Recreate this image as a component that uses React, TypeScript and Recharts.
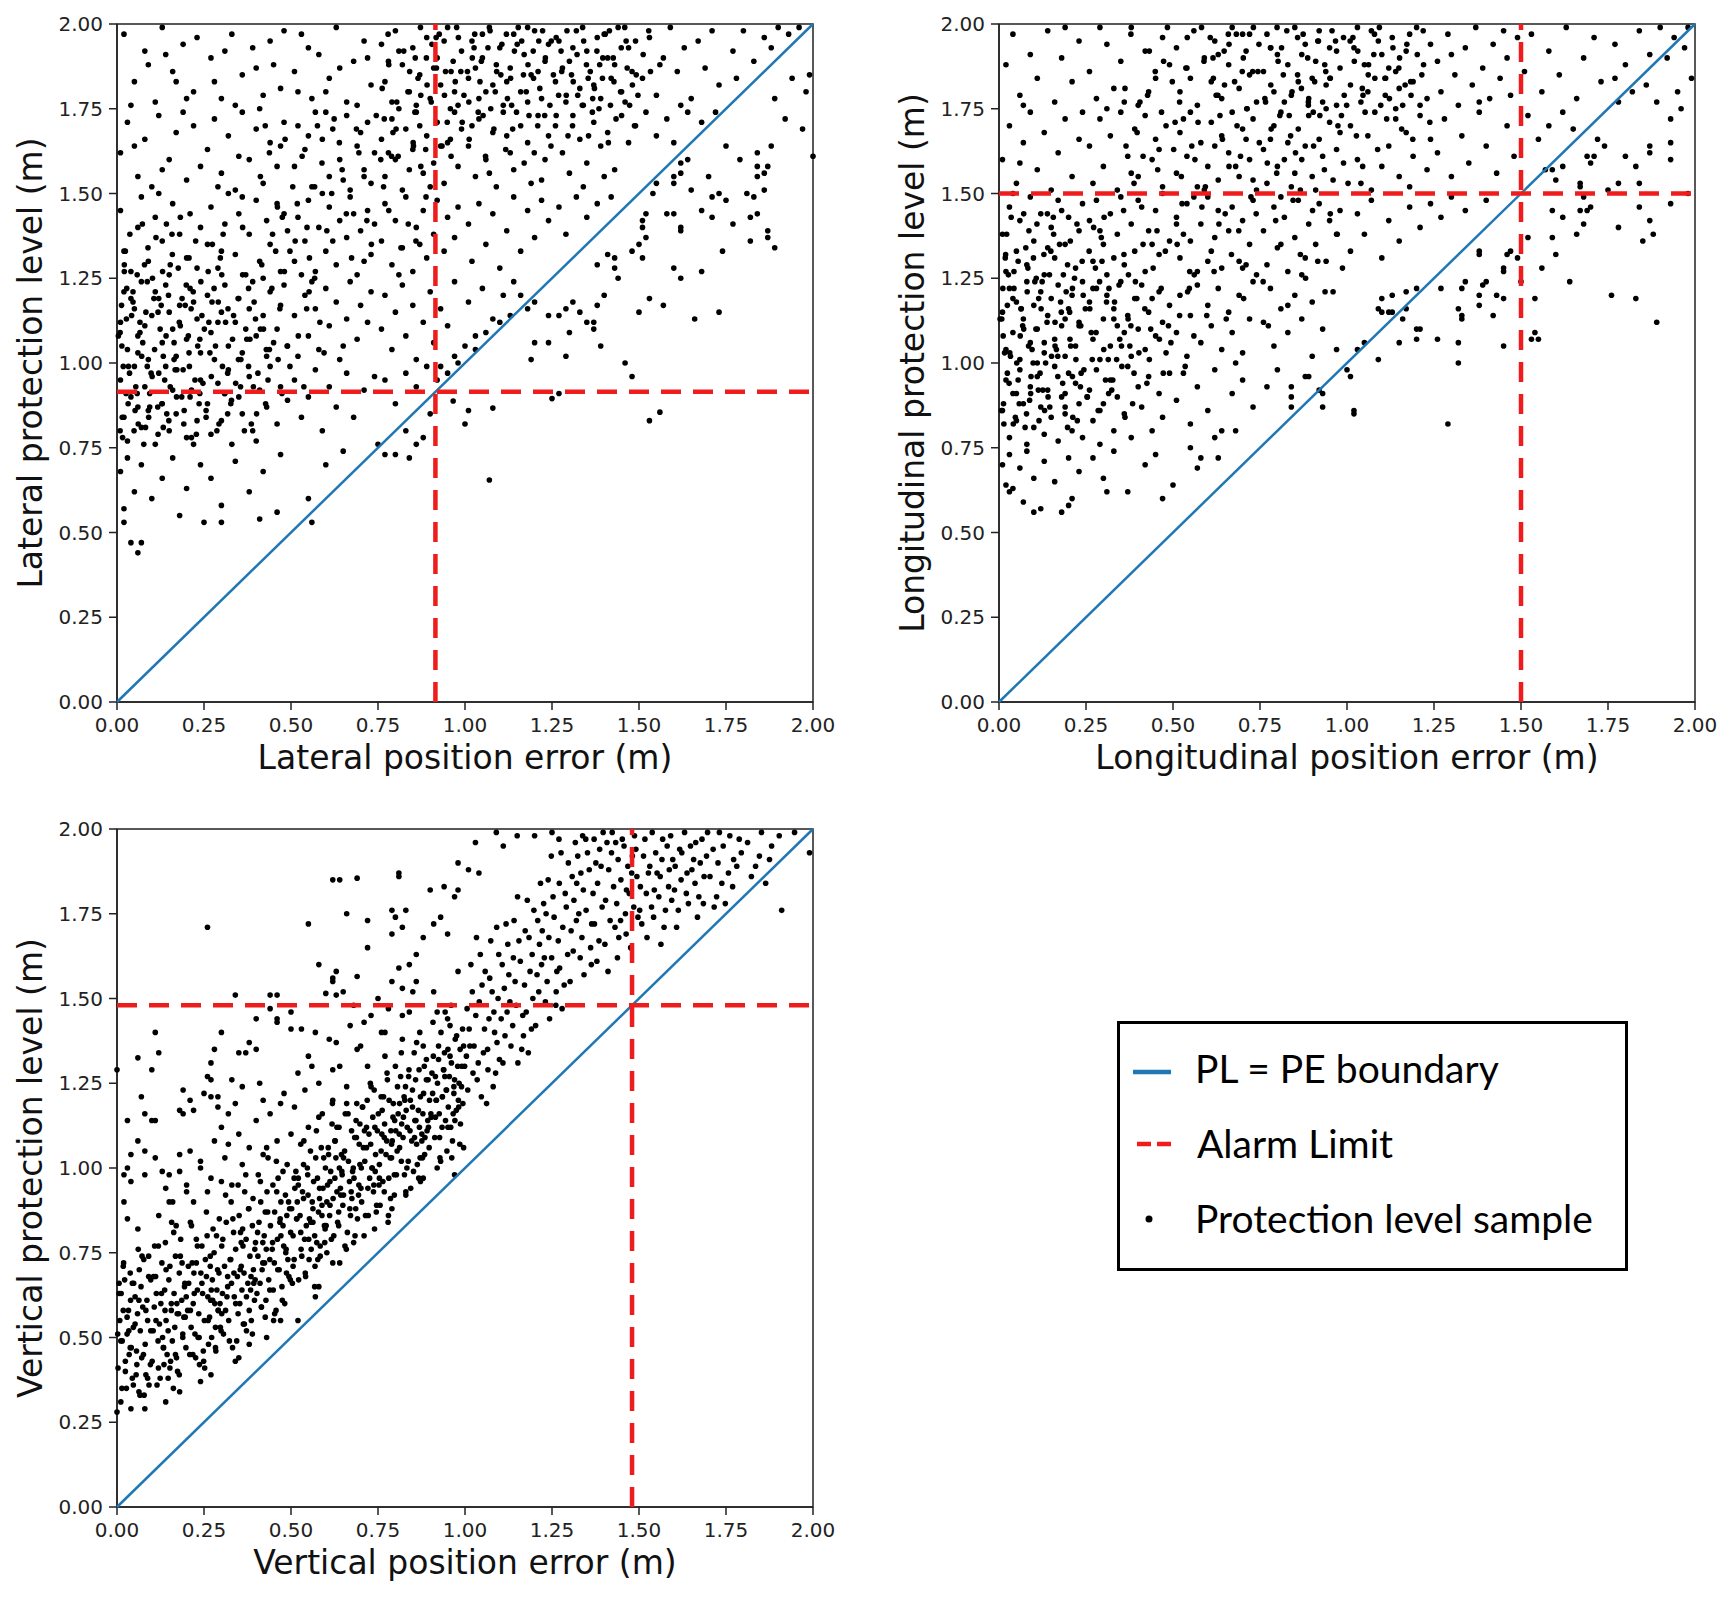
import React from 'react';
import { ScatterChart, Scatter, XAxis, YAxis, ReferenceLine, ReferenceArea } from 'recharts';

// ---------- axis ticks ----------
const AXIS_TICKS = [0, 0.25, 0.5, 0.75, 1, 1.25, 1.5, 1.75, 2];
const TICK_LABELS = ['0.00', '0.25', '0.50', '0.75', '1.00', '1.25', '1.50', '1.75', '2.00'];

// ---------- alarm limits (m) ----------
const LATERAL_ALARM = 0.915;
const LONGITUDINAL_ALARM = 1.5;
const VERTICAL_ALARM = 1.48;

// ---------- axis titles ----------
const LATERAL_TITLES = ['Lateral position error (m)', 'Lateral protection level (m)'];
const LONGITUDINAL_TITLES = ['Longitudinal position error (m)', 'Longitudinal protection level (m)'];
const VERTICAL_TITLES = ['Vertical position error (m)', 'Vertical protection level (m)'];

// ---------- legend ----------
const LEGEND_LABELS = ['PL = PE boundary', 'Alarm Limit', 'Protection level sample'];

// ---------- samples [position error, protection level] ----------
const lateralSamples: [number, number][] = [
  [.02,1.97],[.05,1.83],[.08,1.92],[.11,1.77],[.13,1.99],[.16,1.86],[.19,1.94],[.22,1.8],[.04,1.76],[.09,1.88],[.14,1.91],[.2,1.78],[.23,1.96],[.17,1.83],
  [.27,1.9],[.3,1.78],[.33,1.97],[.36,1.85],[.39,1.93],[.42,1.79],[.45,1.88],[.48,1.98],[.28,1.83],[.34,1.76],[.4,1.87],[.44,1.95],[.47,1.81],[.31,1.92],
  [.51,1.86],[.53,1.97],[.56,1.78],[.58,1.91],[.61,1.84],[.63,1.99],[.66,1.77],[.68,1.89],[.71,1.95],[.73,1.82],[.55,1.93],[.6,1.8],[.64,1.87],[.69,1.76],[.72,1.9],[.52,1.8],
  [.76,1.94],[.77,1.83],[.79,1.77],[.8,1.98],[.82,1.88],[.84,1.8],[.85,1.93],[.87,1.85],[.89,1.96],[.9,1.78],[.92,1.9],[.93,1.82],[.95,1.99],[.96,1.86],[.98,1.76],[.99,1.92],[.81,1.92],[.86,1.76],[.91,1.87],[.94,1.95],[.97,1.8],[.78,1.89],
  [1.01,1.84],[1.02,1.95],[1.04,1.78],[1.05,1.9],[1.07,1.99],[1.08,1.82],[1.1,1.93],[1.11,1.76],[1.13,1.87],[1.14,1.97],[1.16,1.8],[1.17,1.91],[1.19,1.85],[1.2,1.98],[1.22,1.78],[1.23,1.89],[1.24,1.94],[1.03,1.87],[1.06,1.8],[1.09,1.88],[1.12,1.83],[1.15,1.94],[1.18,1.77],[1.21,1.86],[1.05,1.97],[1.18,1.99],
  [1.26,1.83],[1.27,1.95],[1.29,1.77],[1.3,1.89],[1.32,1.98],[1.33,1.81],[1.35,1.92],[1.36,1.86],[1.38,1.96],[1.39,1.78],[1.41,1.9],[1.42,1.84],[1.44,1.99],[1.45,1.8],[1.47,1.93],[1.48,1.86],[1.28,1.87],[1.31,1.93],[1.34,1.76],[1.37,1.82],[1.4,1.97],[1.43,1.88],[1.46,1.77],[1.49,1.95],
  [1.51,1.84],[1.53,1.96],[1.55,1.79],[1.57,1.9],[1.59,1.99],[1.61,1.86],[1.63,1.93],[1.65,1.78],[1.67,1.95],[1.69,1.87],[1.71,1.98],[1.73,1.82],[1.56,1.88],[1.62,1.76],
  [1.77,1.92],[1.8,1.98],[1.83,1.89],[1.86,1.96],[1.9,1.99],[1.93,1.97],[1.78,1.84],[1.96,1.99],[1.88,1.93],[1.94,1.84],[1.98,1.8],[1.92,1.72],[1.97,1.69],[1.99,1.85],[1.89,1.78],
  [.01,1.62],[.03,1.71],[.06,1.55],[.08,1.66],[.1,1.52],[.12,1.73],[.15,1.6],[.17,1.68],[.2,1.54],[.22,1.7],[.24,1.58],[.05,1.64],[.13,1.57],[.19,1.74],
  [.26,1.63],[.28,1.72],[.3,1.56],[.32,1.67],[.34,1.51],[.36,1.74],[.38,1.6],[.4,1.69],[.42,1.53],[.44,1.65],[.46,1.58],[.48,1.71],[.29,1.52],[.35,1.61],[.41,1.75],[.47,1.64],
  [.51,1.58],[.52,1.7],[.54,1.63],[.56,1.52],[.57,1.74],[.59,1.66],[.61,1.55],[.62,1.69],[.64,1.6],[.66,1.73],[.67,1.51],[.69,1.64],[.71,1.57],[.72,1.71],[.74,1.62],[.55,1.67],[.6,1.74],[.65,1.54],[.7,1.68],[.73,1.53],
  [.76,1.66],[.77,1.55],[.79,1.72],[.8,1.6],[.82,1.51],[.83,1.69],[.85,1.63],[.86,1.74],[.88,1.56],[.89,1.67],[.91,1.59],[.92,1.71],[.94,1.53],[.95,1.65],[.97,1.74],[.98,1.58],[.78,1.62],[.84,1.57],[.87,1.7],[.9,1.52],[.93,1.64],[.96,1.61],[.99,1.69],[.81,1.75],
  [1.01,1.64],[1.03,1.55],[1.04,1.72],[1.06,1.6],[1.08,1.68],[1.09,1.52],[1.11,1.74],[1.13,1.62],[1.14,1.57],[1.16,1.7],[1.18,1.65],[1.19,1.53],[1.21,1.73],[1.23,1.6],[1.24,1.67],[1.02,1.7],[1.07,1.56],[1.12,1.67],[1.17,1.59],[1.22,1.54],
  [1.26,1.7],[1.28,1.62],[1.3,1.56],[1.31,1.73],[1.33,1.66],[1.35,1.59],[1.37,1.71],[1.39,1.64],[1.41,1.68],[1.43,1.57],[1.45,1.73],[1.47,1.65],[1.49,1.7],[1.34,1.52],[1.4,1.55],
  [1.52,1.74],[1.55,1.67],[1.58,1.72],[1.6,1.65],[1.64,1.74],[1.68,1.71],[1.72,1.74],
  [.01,1.45],[.02,1.33],[.04,1.27],[.06,1.4],[.07,1.49],[.09,1.3],[.11,1.43],[.13,1.36],[.15,1.26],[.16,1.47],[.18,1.38],[.2,1.31],[.21,1.44],[.23,1.28],[.24,1.4],[.12,1.5],
  [.26,1.35],[.27,1.46],[.29,1.28],[.31,1.41],[.32,1.5],[.34,1.32],[.35,1.44],[.37,1.26],[.38,1.38],[.4,1.48],[.41,1.3],[.43,1.42],[.44,1.35],[.46,1.47],[.47,1.27],[.49,1.39],[.3,1.33],[.36,1.49],[.42,1.25],[.48,1.44],
  [.51,1.3],[.52,1.43],[.54,1.36],[.55,1.48],[.57,1.27],[.58,1.4],[.6,1.33],[.61,1.46],[.63,1.29],[.64,1.42],[.66,1.37],[.67,1.49],[.69,1.26],[.7,1.39],[.72,1.45],[.73,1.32],[.74,1.41],[.53,1.26],[.59,1.5],[.62,1.36],[.68,1.44],[.71,1.3],
  [.76,1.36],[.77,1.47],[.79,1.29],[.8,1.42],[.82,1.34],[.83,1.49],[.85,1.27],[.86,1.4],[.88,1.45],[.89,1.31],[.91,1.38],[.92,1.48],[.94,1.33],[.95,1.43],[.97,1.37],[.98,1.46],[.81,1.26],[.87,1.35],
  [1.01,1.41],[1.02,1.3],[1.04,1.47],[1.06,1.35],[1.08,1.44],[1.1,1.28],[1.12,1.39],[1.14,1.49],[1.16,1.33],[1.18,1.45],[1.2,1.37],[1.22,1.48],[1.24,1.42],
  [1.27,1.46],[1.29,1.38],[1.32,1.49],[1.35,1.43],[1.38,1.47],[1.42,1.49],
  [.01,1.12],[.02,1.21],[.03,1.04],[.05,1.16],[.06,1.08],[.07,1.24],[.09,1.01],[.1,1.14],[.12,1.19],[.13,1.06],[.14,1.23],[.16,1.1],[.17,1.02],[.18,1.17],[.2,1.07],[.21,1.22],[.23,1.13],[.24,1.03],[.04,1.19],[.08,1.11],[.15,1.15],[.22,1.18],
  [.26,1.2],[.27,1.09],[.28,1.01],[.3,1.15],[.31,1.23],[.32,1.05],[.34,1.12],[.35,1.19],[.36,1.03],[.38,1.16],[.39,1.24],[.4,1.08],[.42,1.14],[.43,1.02],[.44,1.21],[.46,1.1],[.47,1.17],[.49,1.05],[.29,1.12],[.37,1.1],[.45,1.06],[.48,1.23],
  [.51,1.14],[.52,1.02],[.54,1.2],[.55,1.08],[.57,1.16],[.58,1.04],[.6,1.22],[.61,1.11],[.63,1.18],[.64,1.01],[.66,1.13],[.67,1.24],[.69,1.07],[.7,1.17],[.72,1.12],[.73,1.21],[.56,1.24],[.65,1.05],
  [.76,1.1],[.77,1.2],[.79,1.04],[.8,1.15],[.82,1.23],[.83,1.08],[.85,1.17],[.86,1.01],[.88,1.12],[.9,1.21],[.91,1.06],[.93,1.16],[.95,1.11],[.97,1.24],
  [1.01,1.18],[1.03,1.08],[1.05,1.22],[1.08,1.13],[1.11,1.2],[1.14,1.24],
  [.01,.95],[.02,.84],[.03,.77],[.04,.9],[.05,.99],[.07,.81],[.08,.93],[.09,.86],[.11,.76],[.12,.97],[.13,.88],[.15,.8],[.16,.92],[.17,.85],[.19,.98],[.2,.78],[.21,.9],[.23,.83],[.24,.95],[.06,.87],[.14,.99],[.22,.76],
  [.26,.88],[.27,.79],[.29,.94],[.3,.83],[.32,.98],[.33,.76],[.35,.9],[.36,.85],[.38,.96],[.39,.8],[.41,.92],[.43,.87],[.44,.99],[.46,.82],[.47,.93],[.49,.89],[.31,.91],[.4,.77],
  [.51,.95],[.53,.84],[.55,.9],[.57,.98],[.59,.8],[.61,.93],[.63,.87],[.66,.97],[.68,.84],[.71,.92],[.74,.96],
  [.77,.95],[.8,.88],[.83,.97],[.86,.93],[.89,.99],
  [.77,.73],[.8,.73],[.84,.72],[.86,.76],[.88,.78],[.75,.76],[.83,.8],[.9,.85],
  [.01,.68],[.02,.57],[.03,.72],[.05,.62],[.07,.7],[.1,.6],[.13,.66],[.16,.72],[.2,.63],[.24,.7],
  [.27,.66],[.3,.58],[.34,.71],[.38,.62],[.42,.68],[.47,.73],
  [.55,.6],[.6,.7],[.65,.74],
  [.06,.44],[.04,.47],[.07,.47],[.02,.53],[.18,.55],[.25,.53],[.3,.53],[.41,.54],[.46,.56],[.56,.53],
  [.92,.95],[.95,.97],[.98,1.0],[.93,.99],[.97,1.02],[1.0,1.05],[1.03,1.04],[1.06,1.09],[1.1,1.12],[1.13,1.14],[1.16,1.2],
  [1.07,.655],[1.53,.83],[1.56,.855],[1.25,.895],[1.27,.91],[1.0,.82],[1.01,.86],[1.08,.867],[.966,.888],[1.46,1.0],[1.48,.96],[1.29,1.02],[1.19,1.01],[1.2,1.06],[1.24,1.06],[1.3,1.09],[1.35,1.12],[1.37,1.12],[1.37,1.1],[1.39,1.05],
  [1.4,1.2],[1.38,1.17],[1.33,1.15],[1.31,1.18],[1.29,1.16],[1.24,1.14],[1.27,1.14],[1.18,1.16],[1.2,1.18],[1.5,1.15],[1.53,1.19],[1.57,1.17],[1.66,1.13],[1.73,1.15],[1.44,1.25],[1.43,1.28],[1.43,1.31],[1.41,1.32],[1.38,1.29],
  [1.51,1.31],[1.48,1.33],[1.51,1.4],[1.52,1.37],[1.5,1.35],[1.6,1.28],[1.62,1.25],[1.68,1.27],[1.74,1.33],[1.82,1.36],[1.87,1.39],[1.87,1.37],[1.89,1.34],[1.77,1.41],[1.82,1.43],[1.84,1.44],[1.71,1.43],[1.68,1.45],[1.58,1.44],
  [1.6,1.44],[1.62,1.4],[1.62,1.39],[1.75,1.48],[1.71,1.49],[1.73,1.5],[1.81,1.5],[1.83,1.49],[1.86,1.51],[1.7,1.55],[1.65,1.51],[1.84,1.55],[1.84,1.58],[1.87,1.58],[1.86,1.56],[1.79,1.6],[1.84,1.62],[2.0,1.61],[1.75,1.64],
  [1.88,1.64],[1.64,1.6],[1.62,1.59],[1.62,1.56],[1.6,1.55],[1.6,1.53],[1.55,1.53],[1.54,1.5],[1.52,1.44],[1.51,1.42],
  [.032,.88],[.071,1.02],[.118,.79],[.046,1.21],[.153,.93],[.089,1.34],[.205,1.08],[.014,1.05],[.127,1.17],[.061,.82],[.176,1.28],[.238,.91],[.098,.97],[.021,1.29],[.142,1.41],[.267,1.03],[.054,.93],[.193,.86],[.312,1.12],[.083,1.15],
  [.226,1.36],[.009,.8],[.164,1.06],[.341,.94],[.117,.87],[.279,1.22],[.037,1.38],[.208,.99],[.373,1.07],[.102,1.25],[.256,.84],[.066,1.09],[.187,1.19],[.405,.97],[.133,.81],[.297,1.31],[.018,.99],[.244,1.14],[.438,1.04],[.077,.76],
  [.329,.89],[.159,1.32],[.468,1.16],[.042,1.14],[.214,.78],[.361,1.26],[.108,1.04],[.497,.99],[.271,.96],[.026,.91],[.182,1.43],[.394,1.18],[.137,.95],[.521,1.08],[.305,1.38],[.058,1.26],[.232,1.05],[.427,.88],[.091,.84],[.552,1.21],
  [.349,1.01],[.171,.9],[.456,1.33],[.013,1.17],[.262,1.27],[.583,1.12],[.124,1.1],[.386,.82],[.049,.8],[.199,1.23],[.489,1.05],[.319,1.16],[.073,1.41],[.416,1.29],[.148,1.2],[.537,.93],[.287,.8],[.004,1.08],[.224,.95],[.361,1.4],
  [.112,1.37],[.474,.91],[.251,1.1],[.036,.97],[.568,1.25],[.167,.98],[.332,1.07],[.094,.91],[.445,1.22],[.207,1.31],[.06,1.03],[.291,1.18],[.512,1.36],[.143,.85],[.378,.99],[.028,1.22],[.236,.88],[.421,1.1],[.079,1.29],[.179,1.12],
  [.595,1.03],[.318,.85],[.131,1.27],[.463,1.01],[.052,.86],[.274,1.35],[.398,1.13],[.016,.78],[.192,.82],[.545,1.16],[.106,1.19],[.355,.93],[.241,1.24],[.087,.99],[.434,.95],[.158,1.38],[.303,.99],[.024,1.33],[.213,1.16],[.481,1.27],
  [.762,1.81],[.793,1.68],[.824,1.92],[.856,1.74],[.887,1.63],[.918,1.87],[.949,1.71],[.981,1.96],[1.012,1.66],[1.043,1.83],[1.074,1.75],[1.106,1.94],[1.137,1.69],[1.168,1.85],[1.199,1.62],[1.231,1.9],[1.262,1.73],[1.293,1.98],
  [1.324,1.79],[1.355,1.67],[1.387,1.88],[1.418,1.76],[1.449,1.93],[1.481,1.82],[1.512,1.91],[.779,1.97],[.808,1.61],[.841,1.86],[.872,1.99],[.903,1.77],[.934,1.64],[.966,1.89],[.997,1.79],[1.028,1.97],[1.059,1.61],[1.091,1.86],
  [1.122,1.78],[1.153,1.99],[1.184,1.73],[1.215,1.81],[1.247,1.64],[1.278,1.86],[1.309,1.7],[1.341,1.95],[1.372,1.81],[1.403,1.97],[1.434,1.72],[1.466,1.87],[1.497,1.79],[1.528,1.98],
  [.804,1.77],[.917,1.96],[1.083,1.69],[1.196,1.92],[1.311,1.83],[1.426,1.9],[.851,1.65],[.972,1.83],[1.117,1.63],[1.248,1.95],[1.366,1.74],[1.487,1.7],[.768,1.72],[.889,1.9],[1.007,1.86],[1.142,1.92],[1.269,1.79],[1.395,1.84],
  [1.533,1.86],[.836,1.8],[.958,1.66],[1.066,1.93],[1.176,1.8],[1.296,1.67],[1.412,1.65],[1.459,1.99],[.941,1.79],[1.038,1.74],[1.223,1.98],[1.349,1.88],[.781,1.88],[.865,1.84],[1.021,1.9],[1.131,1.84],[1.254,1.85],[1.379,1.92],
  [1.473,1.76],[.992,1.71],[1.209,1.7],[1.337,1.76],
  [.412,1.55],[.447,1.38],[.483,1.66],[.518,1.47],[.553,1.31],[.589,1.59],[.624,1.72],[.659,1.44],[.695,1.62],[.731,1.35],[.766,1.52],[.802,1.69],[.837,1.41],[.873,1.58],[.426,1.7],[.461,1.46],[.497,1.33],[.532,1.61],[.568,1.52],[.603,1.39],
  [.639,1.65],[.674,1.31],[.71,1.55],[.745,1.73],[.781,1.45],[.816,1.34],[.852,1.64],[.888,1.49],[.438,1.62],[.505,1.52],[.576,1.7],[.647,1.57],[.718,1.42],[.789,1.61],[.859,1.36],[.475,1.43],[.546,1.4],[.617,1.5],[.688,1.69],[.758,1.6],
  [.021,1.27],[.087,1.24],[.153,1.29],[.219,1.21],[.301,1.26],[.378,1.22],[.046,1.18],[.118,1.15],[.196,1.17],[.264,1.12],[.335,1.14],[.412,1.1],[.009,1.09],[.074,1.06],[.141,1.08],[.207,1.03],[.283,1.05],[.356,1.01],[.429,1.04],[.033,.99],
  [.101,.96],[.172,.98],[.247,.94],[.318,.97],[.392,.93],[.058,.91],[.129,.88],[.186,.9],[.256,.86],[.327,.88],[.401,.85],[.015,.84],[.082,.81],[.149,.83],[.228,.79],[.293,.82],[.366,.8],[.066,1.12],[.182,1.11],[.238,1.07],
  [.11,1.21],[.273,1.18],[.348,1.19],[.027,1.13],[.164,1.01],[.214,.92],[.094,.87],[.133,1.02],[.309,.91],[.382,1.07],
  [.857,1.9],[.891,1.82],[.926,1.97],[.958,1.75],[.988,1.86],[1.026,1.93],[1.052,1.73],[1.087,1.8],[1.119,1.97],[1.148,1.74],[1.181,1.88],[1.212,1.95],[1.244,1.76],[1.276,1.92],[1.306,1.85],[1.338,1.99],[1.367,1.78],[1.396,1.9],
  [1.428,1.83],[1.463,1.95],[1.492,1.85],[.873,1.79],[.905,1.94],[.944,1.86],[.976,1.99],[1.011,1.77],[1.047,1.89],[1.072,1.98],[1.103,1.85],[1.134,1.76],[1.163,1.95],[1.197,1.84],[1.229,1.73],[1.262,1.96],[1.291,1.79],[1.322,1.91],
  [1.354,1.84],[1.385,1.75],[1.415,1.98],[1.447,1.8],
];

const longitudinalSamples: [number, number][] = [
  [.02,1.88],[.04,1.97],[.06,1.79],[.09,1.91],[.11,1.84],[.14,1.98],[.16,1.77],[.18,1.9],[.21,1.83],[.23,1.95],[.07,1.76],[.19,1.99],
  [.26,1.86],[.28,1.78],[.31,1.94],[.33,1.81],[.35,1.89],[.38,1.99],[.4,1.76],[.42,1.92],[.45,1.84],[.47,1.96],[.29,1.99],[.36,1.77],[.43,1.8],[.49,1.88],
  [.51,1.93],[.52,1.8],[.54,1.87],[.56,1.98],[.57,1.76],[.59,1.9],[.61,1.83],[.62,1.95],[.64,1.78],[.66,1.88],[.67,1.99],[.69,1.81],[.71,1.92],[.72,1.85],[.74,1.77],[.55,1.84],[.63,1.91],[.7,1.97],
  [.76,1.86],[.77,1.97],[.79,1.8],[.8,1.91],[.82,1.77],[.83,1.88],[.85,1.99],[.86,1.83],[.88,1.94],[.89,1.78],[.91,1.89],[.92,1.98],[.94,1.82],[.95,1.93],[.97,1.76],[.98,1.87],[.78,1.93],[.84,1.79],[.87,1.91],[.9,1.84],[.93,1.77],[.99,1.96],
  [1.01,1.82],[1.02,1.93],[1.04,1.77],[1.05,1.88],[1.07,1.98],[1.08,1.84],[1.1,1.91],[1.11,1.79],[1.13,1.96],[1.14,1.86],[1.16,1.76],[1.17,1.92],[1.19,1.83],[1.2,1.99],[1.22,1.88],[1.23,1.78],[1.24,1.94],[1.03,1.99],[1.06,1.8],[1.09,1.95],[1.12,1.87],[1.15,1.81],[1.18,1.97],[1.21,1.76],
  [1.26,1.89],[1.27,1.8],[1.29,1.97],[1.31,1.85],[1.32,1.76],[1.34,1.93],[1.36,1.82],[1.37,1.99],[1.39,1.87],[1.41,1.78],[1.42,1.94],[1.44,1.84],[1.46,1.9],[1.47,1.79],[1.49,1.96],[1.3,1.91],[1.38,1.77],[1.45,1.98],
  [1.51,1.86],[1.53,1.97],[1.56,1.8],[1.58,1.92],[1.61,1.85],[1.63,1.99],[1.66,1.78],[1.68,1.9],[1.71,1.96],[1.73,1.83],
  [1.77,1.94],[1.8,1.88],[1.84,1.98],[1.87,1.91],[1.9,1.99],[1.94,1.96],[1.98,1.99],[1.92,1.9],[1.97,1.93],[1.99,1.84],[1.86,1.82],[1.82,1.8],[1.95,1.8],[1.77,1.84],[1.89,1.77],[1.96,1.75],[1.93,1.72],[1.78,1.77],
  [.01,1.6],[.03,1.7],[.05,1.53],[.07,1.65],[.09,1.74],[.11,1.57],[.13,1.68],[.15,1.51],[.17,1.62],[.19,1.72],[.21,1.55],[.23,1.66],[.24,1.74],[.06,1.59],
  [.26,1.64],[.27,1.53],[.29,1.72],[.3,1.58],[.32,1.67],[.34,1.51],[.35,1.74],[.37,1.61],[.39,1.69],[.4,1.55],[.42,1.73],[.44,1.6],[.45,1.66],[.47,1.52],[.48,1.7],[.31,1.75],[.38,1.56],[.46,1.63],
  [.51,1.56],[.52,1.68],[.54,1.61],[.55,1.74],[.57,1.52],[.58,1.65],[.6,1.58],[.61,1.71],[.63,1.54],[.64,1.67],[.66,1.62],[.67,1.74],[.69,1.55],[.7,1.69],[.72,1.6],[.73,1.72],[.74,1.51],[.53,1.72],[.59,1.51],[.62,1.64],[.68,1.58],[.71,1.66],
  [.76,1.63],[.77,1.53],[.79,1.7],[.8,1.58],[.81,1.74],[.83,1.65],[.84,1.52],[.86,1.69],[.87,1.6],[.89,1.73],[.9,1.55],[.92,1.66],[.93,1.61],[.95,1.71],[.96,1.54],[.98,1.68],[.99,1.59],[.78,1.66],[.82,1.6],[.85,1.56],[.88,1.64],[.91,1.51],[.94,1.75],[.97,1.63],
  [1.01,1.7],[1.03,1.6],[1.04,1.53],[1.06,1.67],[1.08,1.74],[1.1,1.58],[1.12,1.64],[1.14,1.72],[1.15,1.55],[1.17,1.68],[1.19,1.61],[1.21,1.73],[1.23,1.57],[1.24,1.66],[1.07,1.51],[1.18,1.52],
  [1.26,1.62],[1.28,1.72],[1.3,1.55],[1.33,1.67],[1.35,1.59],[1.38,1.74],[1.4,1.64],[1.43,1.56],[1.46,1.7],[1.48,1.61],
  [1.52,1.73],[1.55,1.66],[1.58,1.7],[1.62,1.74],[1.65,1.69],
  [.01,1.38],[.02,1.27],[.03,1.46],[.05,1.33],[.06,1.42],[.08,1.29],[.09,1.49],[.1,1.36],[.12,1.44],[.13,1.26],[.15,1.4],[.16,1.31],[.17,1.48],[.19,1.35],[.2,1.43],[.22,1.28],[.23,1.39],[.24,1.47],[.04,1.5],[.14,1.34],
  [.26,1.42],[.27,1.3],[.28,1.48],[.3,1.35],[.31,1.26],[.32,1.44],[.34,1.38],[.35,1.49],[.36,1.29],[.38,1.41],[.39,1.33],[.41,1.46],[.42,1.27],[.43,1.39],[.45,1.45],[.46,1.32],[.47,1.5],[.49,1.36],[.29,1.39],[.33,1.31],[.4,1.48],[.44,1.35],
  [.51,1.43],[.52,1.31],[.54,1.47],[.55,1.36],[.57,1.27],[.58,1.41],[.6,1.49],[.61,1.33],[.63,1.45],[.64,1.28],[.66,1.39],[.67,1.46],[.69,1.3],[.7,1.42],[.72,1.35],[.73,1.48],[.74,1.26],[.53,1.38],[.56,1.49],[.62,1.37],[.65,1.44],[.71,1.29],
  [.76,1.39],[.77,1.29],[.79,1.46],[.8,1.34],[.82,1.43],[.83,1.27],[.85,1.37],[.86,1.48],[.88,1.31],[.89,1.41],[.91,1.35],[.92,1.47],[.94,1.3],[.95,1.42],[.97,1.38],[.98,1.45],[.81,1.49],[.87,1.26],
  [1.01,1.33],[1.03,1.44],[1.05,1.38],[1.07,1.48],[1.1,1.31],[1.12,1.42],[1.15,1.36],[1.18,1.46],[1.21,1.4],[1.24,1.47],
  [1.27,1.43],[1.3,1.49],[1.34,1.45],[1.4,1.48],
  [.01,1.15],[.02,1.04],[.03,1.22],[.04,1.09],[.05,1.18],[.06,1.01],[.07,1.13],[.08,1.24],[.09,1.06],[.1,1.17],[.11,1.1],[.12,1.21],[.13,1.03],[.14,1.14],[.15,1.19],[.16,1.07],[.17,1.23],[.18,1.11],[.19,1.02],[.2,1.16],[.21,1.2],[.22,1.05],[.23,1.12],[.24,1.24],[.11,1.0],[.19,1.13],
  [.26,1.18],[.27,1.07],[.28,1.22],[.29,1.01],[.3,1.13],[.31,1.2],[.32,1.05],[.33,1.16],[.35,1.24],[.36,1.09],[.37,1.14],[.38,1.02],[.39,1.19],[.4,1.1],[.41,1.23],[.42,1.04],[.43,1.15],[.45,1.08],[.46,1.21],[.47,1.12],[.48,1.03],[.49,1.17],[.34,1.11],[.44,1.19],
  [.51,1.09],[.52,1.2],[.54,1.02],[.55,1.14],[.57,1.23],[.58,1.06],[.6,1.17],[.61,1.11],[.63,1.22],[.64,1.04],[.66,1.15],[.67,1.09],[.69,1.2],[.7,1.03],[.72,1.13],[.73,1.24],[.56,1.08],[.68,1.0],
  [.76,1.12],[.78,1.22],[.79,1.05],[.81,1.16],[.83,1.09],[.85,1.2],[.87,1.13],[.9,1.18],[.93,1.1],[.96,1.21],
  [.01,.86],[.02,.95],[.03,.78],[.04,.91],[.05,.83],[.06,.98],[.07,.88],[.08,.76],[.09,.93],[.1,.81],[.11,.96],[.12,.87],[.13,.79],[.14,.92],[.15,.84],[.16,.99],[.17,.77],[.18,.9],[.19,.85],[.2,.97],[.21,.8],[.22,.94],[.23,.88],[.24,.78],
  [.26,.92],[.27,.83],[.28,.98],[.29,.76],[.3,.88],[.32,.95],[.33,.8],[.34,.9],[.36,.85],[.37,.99],[.38,.78],[.4,.93],[.41,.87],[.43,.96],[.44,.8],[.46,.91],[.47,.84],[.49,.97],
  [.51,.89],[.53,.97],[.55,.82],[.57,.93],[.6,.86],[.62,.98],[.64,.8],[.67,.91],[.7,.95],[.73,.87],
  [.77,.93],[.8,.98],[.84,.9],[.88,.96],
  [.84,.87],[.84,.93],[.93,.87],[.92,.92],[.93,.91],[.89,.96],[.9,1.02],[.97,1.04],[1.03,1.04],[1.05,1.06],[1.0,.98],[1.01,.96],[1.02,.86],[1.02,.85],[1.09,1.01],[1.15,1.06],[1.2,1.1],[1.2,1.07],[1.21,1.1],[1.13,1.15],
  [1.16,1.13],[1.17,1.16],[1.1,1.19],[1.09,1.16],[1.1,1.15],[1.12,1.15],[1.13,1.2],[1.17,1.21],[1.2,1.22],[1.29,.82],[1.89,1.12],[1.76,1.2],[1.83,1.19],[1.64,1.24],[1.54,1.19],[1.53,1.07],[1.54,1.09],[1.55,1.07],[1.45,1.05],
  [1.32,1.0],[1.32,1.06],[1.26,1.07],[1.33,1.14],[1.33,1.13],[1.32,1.16],[1.38,1.17],[1.38,1.2],[1.42,1.14],[1.43,1.2],[1.45,1.19],[1.39,1.23],[1.4,1.24],[1.33,1.22],[1.34,1.24],[1.5,1.24],[1.45,1.27],[1.45,1.28],[1.46,1.32],
  [1.47,1.33],[1.49,1.31],[1.52,1.37],[1.56,1.28],[1.6,1.32],[1.38,1.33],[1.38,1.32],[1.27,1.22],[1.68,1.49],[1.7,1.46],[1.78,1.4],[1.84,1.46],[1.85,1.36],[1.87,1.42],[1.88,1.38],[1.93,1.47],[1.98,1.5],[1.75,1.51],[1.78,1.53],
  [1.84,1.53],[1.83,1.58],[1.8,1.61],[1.87,1.64],[1.87,1.62],[1.93,1.65],[1.93,1.6],[1.74,1.64],[1.72,1.66],[1.71,1.61],[1.7,1.59],[1.69,1.61],[1.67,1.53],[1.67,1.52],[1.67,1.45],[1.69,1.45],[1.68,1.41],[1.66,1.38],
  [1.62,1.43],[1.59,1.45],[1.59,1.37],[1.62,1.58],[1.6,1.54],[1.59,1.57],[1.57,1.57],
  [.01,.7],[.02,.64],[.03,.73],[.04,.63],[.06,.69],[.08,.74],[.1,.66],[.13,.71],[.16,.65],[.2,.72],[.23,.68],[.07,.59],[.1,.56],[.12,.57],[.18,.56],[.2,.58],[.21,.6],[.03,.62],
  [.27,.72],[.3,.66],[.33,.74],[.37,.62],[.31,.62],[.42,.7],[.45,.73],[.47,.6],[.5,.64],
  [.57,.69],[.58,.72],[.63,.72],[.55,.75],[.62,.78],[.68,.8],
  [.029,.94],[.068,1.11],[.115,.83],[.043,1.27],[.151,1.02],[.086,1.39],[.203,1.15],[.012,1.08],[.124,1.24],[.058,.88],[.174,1.35],[.236,.97],[.095,1.04],[.019,1.32],[.139,1.44],[.265,1.09],[.051,1.0],[.19,.91],[.309,1.18],[.081,1.21],
  [.224,1.41],[.007,.86],[.161,1.12],[.338,1.01],[.113,.92],[.277,1.28],[.035,1.43],[.206,1.05],[.371,1.13],[.099,1.31],[.254,.9],[.064,1.16],[.185,1.26],[.402,1.03],[.131,.86],[.294,1.37],[.016,1.03],[.242,1.2],[.436,1.1],[.075,.81],
  [.327,.95],[.157,1.38],[.466,1.22],[.04,1.19],[.212,.84],[.359,1.32],[.106,1.1],[.494,1.06],[.268,1.01],[.024,.97],[.18,1.45],[.392,1.24],[.134,1.0],[.519,1.14],[.302,1.43],[.055,1.3],[.23,1.11],[.425,.94],[.088,.89],[.548,1.27],
  [.347,1.07],[.169,.96],[.454,1.39],[.011,1.22],[.259,1.33],[.121,1.16],[.384,.88],[.047,.84],[.197,1.29],[.487,1.11],[.316,1.22],[.071,1.44],[.414,1.35],[.145,1.26],[.535,.99],[.285,.86],[.003,1.13],[.221,1.01],[.358,1.45],[.109,1.41],
  [.472,.97],[.248,1.16],[.033,1.02],[.165,1.04],[.33,1.13],[.092,.96],[.443,1.28],[.205,1.36],[.061,1.08],[.289,1.24],[.51,1.41],[.141,.9],[.376,1.05],[.027,1.26],[.234,.93],[.419,1.16],[.077,1.34],[.177,1.18],[.315,.91],[.129,1.32],
  [.461,1.07],[.05,.91],[.272,1.4],[.396,1.19],[.014,.82],[.19,.87],[.542,1.21],[.103,1.24],[.353,.99],[.239,1.3],[.085,1.05],[.432,1.01],[.156,1.43],[.301,1.04],[.022,1.38],[.211,1.22],[.478,1.33],
  [.362,1.81],[.397,1.68],[.432,1.92],[.467,1.74],[.502,1.63],[.537,1.87],[.572,1.71],[.607,1.96],[.642,1.66],[.677,1.83],[.712,1.75],[.747,1.94],[.782,1.69],[.817,1.85],[.852,1.62],[.887,1.9],[.922,1.73],[.957,1.98],[.992,1.79],
  [1.027,1.67],[1.062,1.88],[1.097,1.76],[1.132,1.93],[1.167,1.82],[1.202,1.91],[.379,1.97],[.414,1.61],[.449,1.86],[.484,1.99],[.519,1.77],[.554,1.64],[.589,1.89],[.624,1.79],[.659,1.97],[.694,1.61],[.729,1.86],[.764,1.78],
  [.799,1.99],[.834,1.73],[.869,1.81],[.904,1.64],[.939,1.86],[.974,1.7],[1.009,1.95],[1.044,1.81],[1.079,1.97],[1.114,1.72],[1.149,1.87],[1.184,1.79],[1.219,1.98],
  [.388,1.53],[.456,1.57],[.524,1.55],[.593,1.52],[.661,1.58],[.73,1.54],[.798,1.56],[.866,1.51],[.935,1.57],[1.003,1.53],[.405,1.77],[.541,1.96],[.684,1.7],[.812,1.93],[.951,1.84],[1.088,1.63],[1.215,1.85],[.473,1.89],[.616,1.84],
  [.748,1.65],[.889,1.77],[1.021,1.89],[1.157,1.69],[.365,1.64],[.506,1.71],[.647,1.92],[.781,1.82],[.916,1.95],[1.052,1.74],[1.189,1.66],[.427,1.79],[.563,1.6],[.702,1.9],[.838,1.67],[.97,1.92],[1.111,1.84],[1.238,1.71],[.498,1.83],
  [.635,1.73],[.771,1.59],[.907,1.83],[1.045,1.58],[1.172,1.94],[.582,1.99],[.72,1.97],[.858,1.96],
  [.512,1.35],[.547,1.22],[.583,1.46],[.618,1.27],[.653,1.13],[.689,1.39],[.724,1.49],[.759,1.24],[.795,1.42],[.83,1.17],[.866,1.32],[.901,1.45],[.937,1.21],[.972,1.38],[.526,1.47],[.561,1.26],[.597,1.14],[.632,1.41],[.668,1.32],
  [.703,1.19],[.739,1.44],[.774,1.11],[.81,1.35],[.845,1.48],[.881,1.25],[.916,1.3],[.952,1.44],[.987,1.28],[.6,1.3],[.7,1.28],
  [.018,1.31],[.083,1.28],[.149,1.33],[.217,1.25],[.296,1.3],[.372,1.26],[.043,1.22],[.114,1.19],[.193,1.21],[.261,1.16],[.332,1.18],[.008,1.13],[.071,1.1],[.138,1.12],[.204,1.07],[.279,1.09],[.352,1.05],[.031,1.03],[.098,1.0],[.169,1.02],
  [.244,.98],[.314,1.01],[.388,.97],[.055,.95],[.126,.92],[.183,.94],[.253,.9],[.324,.92],[.013,.88],[.079,.85],[.146,.87],[.225,.83],[.29,.86],[.362,.84],[.063,1.16],[.179,1.15],[.235,1.11],[.107,1.25],[.27,1.22],[.345,1.23],
  [.024,1.17],[.161,1.05],[.211,.96],[.091,.91],[.13,1.06],[.306,.95],[.379,1.11],[.041,.82],[.197,.81],[.118,.97],
  [.615,1.9],[.648,1.82],[.682,1.97],[.713,1.75],[.744,1.86],[.781,1.93],[.807,1.73],[.842,1.8],[.874,1.97],[.903,1.74],[.936,1.88],[.967,1.95],[.999,1.76],[1.031,1.92],[1.061,1.85],[1.093,1.99],[1.122,1.78],[1.151,1.9],
  [1.183,1.83],[.629,1.79],[.661,1.94],[.699,1.86],[.731,1.99],[.766,1.77],[.802,1.89],[.827,1.98],[.858,1.85],[.889,1.76],[.918,1.95],[.952,1.84],[.984,1.73],[1.017,1.96],[1.046,1.79],[1.077,1.91],[1.109,1.84],[1.14,1.75],
];

const verticalSamples: [number, number][] = [
  [.003,.41],[.012,.63],[.027,.35],[.008,.55],[.041,.47],[.019,.72],[.055,.39],[.033,.58],[.067,.52],[.048,.66],[.071,.44],[.086,.61],[.092,.36],[.015,.49],[.038,.69],[.059,.57],[.077,.73],[.024,.43],[.063,.34],[.081,.48],[.097,.67],
  [.006,.66],[.029,.51],[.044,.38],[.052,.62],[.088,.55],[.074,.59],[.011,.31],[.035,.45],[.096,.42],[.061,.76],[.018,.58],[.047,.53],[.083,.39],[.069,.65],[.002,.51],[.056,.46],[.091,.74],[.039,.61],[.022,.67],[.078,.33],[.064,.7],
  [.104,.52],[.111,.68],[.119,.41],[.126,.6],[.133,.47],[.108,.77],[.141,.55],[.147,.38],[.152,.71],[.159,.49],[.164,.63],[.171,.44],[.177,.57],[.183,.79],[.189,.51],[.195,.66],[.115,.36],[.122,.54],[.137,.64],[.144,.45],[.156,.58],
  [.168,.74],[.174,.4],[.186,.61],[.198,.47],[.129,.72],[.162,.35],[.107,.59],[.118,.49],[.135,.42],[.149,.67],[.166,.53],[.179,.69],[.192,.56],[.113,.63],[.139,.78],[.154,.43],[.172,.6],[.187,.72],[.199,.62],[.131,.5],[.157,.84],
  [.203,.58],[.209,.45],[.216,.72],[.224,.51],[.231,.64],[.237,.42],[.244,.77],[.251,.55],[.257,.68],[.263,.48],[.269,.61],[.276,.82],[.283,.53],[.289,.7],[.296,.6],[.206,.66],[.213,.53],[.228,.79],[.235,.57],[.248,.46],[.254,.73],
  [.261,.62],[.272,.5],[.279,.75],[.287,.64],[.294,.85],[.299,.52],[.219,.6],[.241,.69],[.266,.56],[.284,.46],[.211,.84],[.226,.44],[.246,.63],[.259,.8],[.274,.67],[.291,.58],[.233,.5],[.252,.41],[.268,.71],[.281,.6],[.221,.69],
  [.357,.71],[.312,.58],[.389,.83],[.301,.77],[.344,.49],[.376,.66],[.328,.9],[.395,.61],[.363,.54],[.318,.68],[.382,.74],[.337,.62],[.351,.86],[.306,.51],[.371,.79],[.392,.7],[.325,.73],[.348,.57],[.367,.93],[.314,.84],[.386,.55],
  [.332,.47],[.359,.64],[.303,.63],[.378,.88],[.341,.76],[.398,.78],[.321,.55],[.365,.69],[.353,.6],[.309,.71],[.384,.64],[.335,.81],[.372,.52],[.346,.68],[.391,.91],[.316,.62],[.362,.77],[.329,.66],[.38,.58],[.355,.81],[.397,.67],
  [.441,.83],[.487,.69],[.405,.74],[.463,.97],[.428,.61],[.496,.88],[.452,.72],[.413,.9],[.479,.77],[.436,.67],[.469,.85],[.402,.63],[.448,.95],[.491,.73],[.423,.8],[.457,.58],[.484,.92],[.417,.7],[.474,.65],[.433,.87],[.499,.81],
  [.446,.76],[.408,.84],[.466,.7],[.426,.56],[.489,1.01],[.453,.87],[.411,.66],[.477,.83],[.439,.73],[.494,.68],[.419,.78],[.461,.79],[.431,.93],[.482,.6],[.406,.98],[.449,.64],[.471,.9],[.424,.72],[.458,1.02],[.415,.59],[.486,.76],
  [.518,.9],[.574,.78],[.536,1.01],[.592,.94],[.509,.73],[.553,.85],[.587,1.06],[.528,.81],[.565,.96],[.502,.88],[.541,.69],[.579,.87],[.514,.99],[.558,.76],[.596,.83],[.533,.93],[.571,1.03],[.522,.67],[.548,.98],[.584,.74],[.506,.8],
  [.561,.9],[.539,.79],[.599,1.0],[.526,.86],[.569,.71],[.511,.94],[.556,1.05],[.582,.91],[.544,.83],[.597,.78],[.531,.74],[.563,.84],[.516,.85],[.576,.97],[.549,.92],[.504,.66],[.589,.86],[.537,1.08],[.568,.8],[.521,.97],[.552,.73],
  [.647,.98],[.611,.86],[.683,1.09],[.629,1.03],[.694,.92],[.605,.95],[.662,.81],[.638,1.12],[.677,.99],[.616,.79],[.654,1.05],[.698,1.01],[.621,.91],[.669,.88],[.642,.94],[.687,1.14],[.608,1.04],[.656,1.16],[.634,.84],[.673,.93],[.614,.99],
  [.691,.85],[.649,.89],[.626,1.08],[.665,1.02],[.601,.83],[.681,.97],[.639,1.0],[.659,.76],[.618,1.13],[.696,1.07],[.632,.93],[.674,1.11],[.645,1.04],[.603,.9],[.686,.88],[.623,.8],[.668,.96],[.651,.92],[.612,.96],[.689,1.19],[.637,.87],
  [.712,1.02],[.768,.93],[.735,1.15],[.791,1.08],[.703,.9],[.754,1.01],[.782,1.2],[.726,.97],[.761,1.1],[.745,.87],[.797,.98],[.717,1.12],[.773,1.04],[.739,1.23],[.708,1.06],[.786,.91],[.751,1.16],[.729,1.07],[.764,.96],[.798,1.14],[.721,.94],
  [.743,1.04],[.777,1.26],[.705,1.18],[.756,.89],[.789,1.03],[.733,1.0],[.769,1.13],[.714,.86],[.748,1.11],[.794,1.19],[.724,1.1],[.759,1.05],[.781,.97],[.737,.93],[.702,1.0],[.766,1.21],[.742,.99],[.787,1.11],[.719,1.2],[.753,.95],[.775,1.08],
  [.834,1.12],[.871,1.03],[.812,1.19],[.858,1.26],[.893,1.14],[.826,.98],[.847,1.08],[.881,1.22],[.805,1.05],[.866,1.17],[.839,1.29],[.897,1.06],[.818,1.13],[.852,.99],[.876,1.1],[.829,1.24],[.889,1.32],[.808,1.16],[.861,1.07],[.843,1.2],[.872,.96],
  [.815,1.27],[.898,1.2],[.837,1.02],[.856,1.14],[.884,1.04],[.822,1.09],[.868,1.29],[.803,.98],[.849,1.23],[.891,1.11],[.831,1.17],[.863,1.01],[.879,1.16],[.811,1.1],[.854,1.34],[.842,1.11],[.894,1.26],[.825,1.21],[.869,1.12],[.817,1.02],[.885,1.09],
  [.917,1.2],[.961,1.31],[.934,1.12],[.983,1.25],[.905,1.28],[.948,1.05],[.972,1.38],[.926,1.16],[.994,1.19],[.955,1.27],[.913,1.09],[.941,1.34],[.987,1.13],[.968,1.22],[.902,1.16],[.931,1.4],[.979,1.3],[.952,1.18],[.921,1.25],[.996,1.36],[.944,1.14],
  [.964,1.08],[.909,1.33],[.975,1.17],[.938,1.29],[.99,1.24],[.957,1.42],[.928,1.03],[.985,1.07],[.946,1.23],[.915,1.15],[.97,1.26],[.935,1.21],[.999,1.3],[.959,1.12],[.924,1.32],[.981,1.2],[.951,1.35],[.907,1.22],[.966,1.16],[.942,1.27],[.993,1.41],
  [.072,.74],[.018,.71],[.091,.68],[.044,.66],[.006,.63],[.063,.61],[.083,.58],[.029,.56],[.052,.54],[.097,.52],[.011,.49],[.038,.47],[.076,.45],[.057,.42],[.024,.4],[.088,.38],[.047,.36],[.066,.33],[.014,.35],[.034,.52],
  [.163,.81],[.119,.77],[.182,.74],[.141,.7],[.105,.68],[.194,.65],[.128,.63],[.156,.6],[.173,.57],[.112,.55],[.147,.52],[.189,.5],[.134,.47],[.168,.45],[.101,.43],[.152,.41],[.179,.39],[.124,.38],[.196,.56],[.138,.58],
  [.257,.87],[.214,.83],[.286,.8],[.231,.77],[.268,.74],[.205,.71],[.293,.69],[.244,.66],[.222,.63],[.275,.61],[.211,.58],[.262,.55],[.297,.53],[.236,.5],[.283,.47],[.218,.45],[.249,.43],[.271,.64],[.228,.72],[.291,.58],
  [.348,.95],[.312,.92],[.379,.88],[.333,.85],[.361,.82],[.304,.79],[.396,.76],[.327,.73],[.354,.7],[.385,.68],[.318,.65],[.372,.62],[.341,.6],[.301,.57],[.366,.54],[.389,.51],[.323,.49],[.357,.78],[.393,.66],[.336,.69],
  [.434,1.03],[.477,.99],[.412,.96],[.459,.93],[.493,.9],[.426,.87],[.468,.84],[.404,.81],[.447,.78],[.485,.75],[.419,.72],[.462,.7],[.498,.67],[.439,.64],[.475,.61],[.415,.59],[.453,.57],[.488,.86],[.429,.76],[.471,.8],
  [.573,1.11],[.528,1.07],[.594,1.03],[.547,1.0],[.509,.97],[.582,.94],[.536,.91],[.563,.88],[.517,.85],[.598,.82],[.551,.79],[.529,.76],[.577,.73],[.506,.71],[.542,.68],[.568,.65],[.589,.89],[.521,.95],[.557,.84],[.584,.77],
  [.619,1.19],[.664,1.16],[.632,1.12],[.688,1.09],[.607,1.06],[.651,1.03],[.679,1.0],[.626,.97],[.695,.95],[.643,.92],[.612,.89],[.671,.86],[.637,.83],[.684,.8],[.655,.77],[.603,.75],[.698,1.13],[.646,.99],[.627,1.08],[.675,.91],
  [.776,1.28],[.728,1.25],[.759,1.21],[.706,1.18],[.793,1.15],[.741,1.12],[.768,1.09],[.717,1.06],[.785,1.03],[.733,1.0],[.754,.97],[.701,.94],[.797,.92],[.746,.89],[.722,.86],[.779,.84],[.762,1.17],[.711,1.11],[.789,1.07],[.738,.95],
  [.861,1.37],[.817,1.34],[.883,1.3],[.838,1.27],[.806,1.24],[.872,1.21],[.849,1.18],[.823,1.15],[.895,1.12],[.855,1.09],[.812,1.06],[.878,1.03],[.833,1.0],[.867,.97],[.844,.94],[.801,1.11],[.889,1.26],[.827,1.2],[.859,1.14],[.876,1.08],
  [.943,1.46],[.908,1.43],[.976,1.39],[.924,1.36],[.957,1.33],[.991,1.3],[.915,1.27],[.968,1.24],[.935,1.21],[.982,1.18],[.903,1.15],[.951,1.12],[.927,1.09],[.996,1.06],[.962,1.03],[.918,1.2],[.986,1.35],[.939,1.29],[.971,1.14],[.947,1.23],
  [0,.28],[.04,.29],[.08,.29],[.14,.31],[.18,.34],[.24,.37],[.27,.39],[.03,.85],[.06,.82],[.02,.9],[.12,.86],[.17,.83],[.22,.9],[.26,.93],[.33,.95],[.37,.98],[.42,1.04],[.46,1.08],[.55,1.12],[.59,1.16],[.62,1.2],[.66,1.24],[.72,1.3],
  [.77,1.33],[.82,1.38],[.87,1.4],[.92,1.46],[.96,1.48],[.52,.55],[.57,.62],[.64,.72],[.68,.78],[.74,.82],[.79,.88],[.83,.92],[.88,.97],[.93,1.02],[.97,.98],[.34,.43],[.38,.48],[.43,.5],[.47,.55],
  [.15,.9],[.2,.95],[.24,1.02],[.27,.97],[.32,1.07],[.36,1.01],[.4,1.14],[.43,1.06],[.47,1.19],[.5,1.1],[.54,1.23],[.58,1.15],[.62,1.29],[.66,1.19],[.69,1.35],[.73,1.24],[.77,1.4],[.8,1.3],[.84,1.46],[.88,1.36],[.91,1.52],[.95,1.44],
  [.98,1.58],[.18,1.04],[.3,1.12],[.42,1.2],[.56,1.3],[.63,1.37],[.71,1.43],[.86,1.55],[.35,.44],[.45,.55],[.62,.72],[.71,.8],[.83,.93],[.92,1.0],[.58,.65],[.78,.86],
  [1.004,1.33],[1.047,1.21],[1.083,1.46],[1.021,1.52],[1.066,1.29],[1.092,1.37],[1.012,1.41],[1.058,1.58],[1.035,1.26],[1.078,1.52],[1.097,1.63],[1.026,1.36],[1.069,1.44],[1.041,1.49],[1.008,1.23],[1.088,1.28],[1.053,1.34],[1.017,1.6],
  [1.074,1.67],[1.031,1.45],[1.062,1.19],[1.095,1.5],[1.044,1.63],[1.006,1.47],[1.085,1.4],[1.038,1.31],[1.071,1.56],[1.023,1.28],[1.056,1.41],[1.099,1.32],[1.014,1.36],[1.049,1.54],[1.081,1.24],[1.033,1.68],[1.065,1.35],[1.091,1.71],
  [1.104,1.44],[1.152,1.31],[1.187,1.58],[1.123,1.66],[1.168,1.39],[1.195,1.5],[1.113,1.53],[1.141,1.73],[1.176,1.46],[1.132,1.36],[1.159,1.61],[1.109,1.31],[1.184,1.68],[1.147,1.48],[1.126,1.57],[1.171,1.54],[1.198,1.76],
  [1.137,1.42],[1.163,1.35],[1.118,1.72],[1.191,1.41],[1.155,1.67],[1.107,1.6],[1.144,1.55],[1.179,1.79],[1.129,1.49],[1.166,1.45],[1.193,1.63],[1.115,1.39],[1.151,1.8],[1.182,1.34],[1.139,1.62],[1.173,1.7],[1.121,1.46],
  [1.207,1.57],[1.243,1.44],[1.281,1.71],[1.226,1.78],[1.262,1.52],[1.295,1.63],[1.214,1.66],[1.239,1.85],[1.272,1.59],[1.231,1.49],[1.256,1.74],[1.203,1.42],[1.288,1.81],[1.249,1.62],[1.222,1.7],[1.268,1.67],[1.297,1.9],
  [1.236,1.55],[1.261,1.48],[1.217,1.84],[1.285,1.54],[1.253,1.8],[1.209,1.73],[1.241,1.68],[1.276,1.93],[1.228,1.62],[1.264,1.58],[1.291,1.77],[1.212,1.52],[1.248,1.92],[1.279,1.47],[1.233,1.75],[1.271,1.84],[1.22,1.6],
  [1.305,1.7],[1.342,1.57],[1.381,1.84],[1.324,1.92],[1.361,1.65],[1.394,1.77],[1.313,1.79],[1.338,1.98],[1.372,1.72],[1.331,1.62],[1.357,1.88],[1.302,1.55],[1.387,1.94],[1.348,1.76],[1.321,1.84],[1.368,1.81],[1.397,1.99],
  [1.336,1.68],[1.363,1.6],[1.317,1.96],[1.385,1.67],[1.352,1.93],[1.308,1.86],[1.34,1.82],[1.376,1.9],[1.327,1.75],[1.364,1.72],[1.391,1.89],[1.311,1.64],[1.347,1.97],[1.379,1.61],[1.333,1.87],[1.371,1.97],[1.32,1.73],
  [1.404,1.79],[1.442,1.68],[1.481,1.92],[1.423,1.99],[1.461,1.75],[1.494,1.86],[1.413,1.88],[1.438,1.62],[1.472,1.81],[1.431,1.71],[1.457,1.95],[1.402,1.66],[1.487,1.98],[1.448,1.85],[1.421,1.93],[1.468,1.89],
  [1.497,1.74],[1.436,1.78],[1.463,1.69],[1.417,1.73],[1.485,1.77],[1.452,1.97],[1.408,1.96],[1.44,1.91],[1.476,1.65],[1.427,1.83],[1.464,1.82],[1.491,1.94],[1.411,1.58],[1.447,1.73],[1.479,1.87],[1.433,1.96],
  [1.504,1.83],[1.542,1.74],[1.581,1.95],[1.523,1.68],[1.561,1.86],[1.594,1.79],[1.513,1.92],[1.538,1.99],[1.572,1.71],[1.531,1.89],[1.557,1.8],[1.502,1.76],[1.587,1.88],[1.548,1.93],
  [1.521,1.81],[1.568,1.97],[1.597,1.91],[1.536,1.77],[1.563,1.66],[1.517,1.97],[1.585,1.83],[1.552,1.87],[1.508,1.72],[1.544,1.82],[1.576,1.76],[1.527,1.87],[1.591,1.98],[1.566,1.91],
  [1.604,1.89],[1.642,1.78],[1.681,1.97],[1.623,1.93],[1.661,1.84],[1.694,1.92],[1.613,1.76],[1.638,1.87],[1.672,1.8],[1.631,1.99],[1.657,1.91],[1.602,1.82],[1.687,1.86],[1.648,1.95],[1.621,1.85],[1.668,1.74],
  [1.697,1.99],[1.636,1.81],[1.663,1.96],[1.617,1.94],[1.685,1.78],[1.652,1.88],[1.608,1.71],[1.676,1.9],
  [1.704,1.86],[1.742,1.95],[1.781,1.89],[1.723,1.8],[1.761,1.98],[1.794,1.93],[1.713,1.94],[1.738,1.84],[1.772,1.91],[1.731,1.99],[1.757,1.87],[1.788,1.97],[1.748,1.78],[1.716,1.77],[1.769,1.83],[1.727,1.9],
  [1.812,1.96],[1.835,1.89],[1.852,1.99],[1.864,1.84],[1.881,1.95],[1.903,1.98],[1.91,1.76],[1.947,1.99],[1.99,1.93],[1.846,1.92],[1.823,1.86],[1.875,1.91],
  [.26,1.71],[.55,1.72],[.62,1.85],[.64,1.85],[.69,1.855],[.81,1.86],[.81,1.87],[.66,1.75],[.72,1.73],[.72,1.65],[.58,1.6],[.63,1.58],[.62,1.56],[.62,1.55],[.69,1.565],[.65,1.52],[.6,1.515],[.63,1.51],[.34,1.51],[.44,1.51],
  [.46,1.51],[.44,1.47],[.5,1.46],[.4,1.44],[.46,1.43],[.46,1.44],[.5,1.41],[.53,1.41],[.3,1.4],[.11,1.4],[.12,1.34],[.06,1.325],[0,1.29],[.1,1.29],[.28,1.35],[.27,1.31],[.26,1.27],[.27,1.26],[.35,1.34],[.37,1.34],
  [.38,1.37],[.4,1.35],[.33,1.26],[.36,1.24],[.07,1.21],[.08,1.16],[.1,1.14],[.11,1.14],[.03,1.14],[.19,1.23],[.21,1.2],[.22,1.17],[.18,1.17],[.19,1.16],[.25,1.22],[.27,1.21],[.29,1.21],[.29,1.18],[.32,1.16],[.34,1.19],
  [.06,1.08],[.08,1.05],[.11,1.03],[.13,.99],[.15,.98],[.04,1.04],[.03,1.0],[.02,.98],[.04,.96],
  [.9,1.82],[.94,1.83],[.98,1.82],[.97,1.8],[.93,1.74],[.91,1.72],[.95,1.69],[.88,1.68],[.86,1.63],[.84,1.6],[.81,1.59],[.79,1.55],[.82,1.53],[.85,1.52],[.82,1.45],[.79,1.76],[.83,1.76],[.8,1.74],[.79,1.69],[.82,1.71],
  [1.03,1.96],[1.09,1.99],[1.01,1.88],[1.04,1.87],[.98,1.9],[1.11,1.95],[1.15,1.98],[1.2,1.98],[1.25,1.99],[1.27,1.97],
  [.48,1.22],[.52,1.28],[.55,1.33],[.58,1.25],[.61,1.38],[.64,1.3],[.67,1.42],[.7,1.36],[.73,1.45],[.76,1.4],[.51,1.18],[.44,1.16],[.41,1.25],[.57,1.4],[.68,1.48],[.75,1.5],[.78,1.47],
  [.14,.94],[.18,.99],[.21,1.05],[.24,1.0],[.28,1.08],[.31,1.03],[.35,1.1],[.38,1.06],[.16,.9],[.3,.96],[.08,.98],[.2,.93],
];

// ---------- layout ----------
const CH_W = 860;
const CH_H = 800;
const M_TOP = 24;
const Y_AX_W = 117;
const M_RIGHT = 47;
const X_AX_H = 98;
const PLOT_W = CH_W - Y_AX_W - M_RIGHT;
const PLOT_H = CH_H - M_TOP - X_AX_H;

const AXIS_COLOR = '#222';
const TICK_FONT = { fontSize: 20, fill: '#222', fontFamily: '"DejaVu Sans", sans-serif' };
const TITLE_FONT = '"DejaVu Sans", sans-serif';
const BLUE = '#1f77b4';
const RED = '#ee1c1c';

const fmtTick = (v: number) => TICK_LABELS[AXIS_TICKS.indexOf(v)] ?? String(v);

function SampleDot(props: any) {
  if (props.cx == null || props.cy == null) return null;
  return <circle cx={props.cx} cy={props.cy} r={2.8} fill="#000" />;
}

function Panel({ left, top, samples, alarm, titles }: { left: number; top: number; samples: [number, number][]; alarm: number; titles: string[] }) {
  const data = samples.map(([pe, pl]) => ({ pe, pl }));
  const xTitle = () => (
    <text x={Y_AX_W + PLOT_W / 2} y={M_TOP + PLOT_H + 55} textAnchor="middle" dominantBaseline="central"
      style={{ fontSize: 33, fontFamily: TITLE_FONT, fill: '#111' }}>{titles[0]}</text>
  );
  const yTitle = () => (
    <text x={30} y={M_TOP + PLOT_H / 2} textAnchor="middle" dominantBaseline="central"
      transform={`rotate(-90 30 ${M_TOP + PLOT_H / 2})`}
      style={{ fontSize: 33, fontFamily: TITLE_FONT, fill: '#111' }}>{titles[1]}</text>
  );
  return (
    <div style={{ position: 'absolute', left, top, width: CH_W, height: CH_H }}>
      <ScatterChart width={CH_W} height={CH_H} margin={{ top: M_TOP, right: M_RIGHT, bottom: 0, left: 0 }}>
        <XAxis type="number" dataKey="pe" domain={[0, 2]} ticks={AXIS_TICKS} interval={0} tickFormatter={fmtTick}
          height={X_AX_H} tickSize={8} tickMargin={8} tick={TICK_FONT}
          tickLine={{ stroke: AXIS_COLOR, strokeWidth: 1.5 }} axisLine={{ stroke: AXIS_COLOR, strokeWidth: 1.5 }}
          label={xTitle} />
        <YAxis type="number" dataKey="pl" domain={[0, 2]} ticks={AXIS_TICKS} interval={0} tickFormatter={fmtTick}
          width={Y_AX_W} tickSize={8} tickMargin={6} tick={TICK_FONT}
          tickLine={{ stroke: AXIS_COLOR, strokeWidth: 1.5 }} axisLine={{ stroke: AXIS_COLOR, strokeWidth: 1.5 }}
          label={yTitle} />
        <ReferenceArea x1={0} x2={2} y1={0} y2={2} fill="#fff" fillOpacity={0} stroke={AXIS_COLOR} strokeWidth={1.5} />
        <Scatter data={data} shape={SampleDot} isAnimationActive={false} />
        <ReferenceLine segment={[{ x: 0, y: 0 }, { x: 2, y: 2 }]} stroke={BLUE} strokeWidth={2.5} zIndex={1000} />
        <ReferenceLine x={alarm} stroke={RED} strokeWidth={4.5} strokeDasharray="20 12" zIndex={1000} />
        <ReferenceLine y={alarm} stroke={RED} strokeWidth={4.5} strokeDasharray="20 12" zIndex={1000} />
      </ScatterChart>
    </div>
  );
}

function LegendBox() {
  const font = { fontSize: 39, fontFamily: 'Lato, "Open Sans", sans-serif', fill: '#000' };
  return (
    <svg style={{ position: 'absolute', left: 1117, top: 1021 }} width={512} height={251}>
      <rect x={1.5} y={1.5} width={508} height={247} fill="#fff" stroke="#000" strokeWidth={3} />
      <line x1={16} y1={51} x2={54} y2={51} stroke={BLUE} strokeWidth={4.5} />
      <text x={78} y={62} style={font}>{LEGEND_LABELS[0]}</text>
      <line x1={20} y1={123} x2={54} y2={123} stroke={RED} strokeWidth={4.5} strokeDasharray="14 6" />
      <text x={80} y={137} style={font}>{LEGEND_LABELS[1]}</text>
      <circle cx={32} cy={198} r={3.5} fill="#000" />
      <text x={78} y={212} style={font}>{LEGEND_LABELS[2]}</text>
    </svg>
  );
}

export default function App() {
  return (
    <div style={{ position: 'absolute', left: 0, top: 0, width: 1734, height: 1598, background: '#fff', overflow: 'hidden' }}>
      <Panel left={0} top={0} samples={lateralSamples} alarm={LATERAL_ALARM} titles={LATERAL_TITLES} />
      <Panel left={882} top={0} samples={longitudinalSamples} alarm={LONGITUDINAL_ALARM} titles={LONGITUDINAL_TITLES} />
      <Panel left={0} top={805} samples={verticalSamples} alarm={VERTICAL_ALARM} titles={VERTICAL_TITLES} />
      <LegendBox />
    </div>
  );
}
